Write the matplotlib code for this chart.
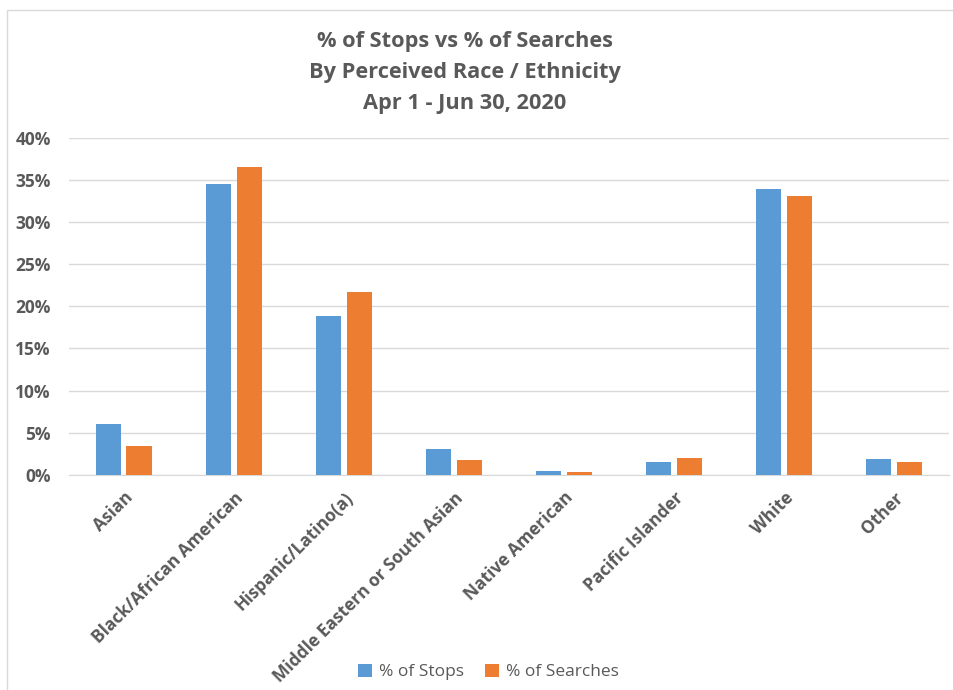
import matplotlib
matplotlib.use("Agg")
import matplotlib.pyplot as plt
import numpy as np
from matplotlib.patches import Rectangle
from matplotlib.ticker import FuncFormatter

categories = ["Asian", "Black/African American", "Hispanic/Latino(a)",
              "Middle Eastern or South Asian", "Native American",
              "Pacific Islander", "White", "Other"]
stops = [6.05, 34.5, 18.8, 3.0, 0.47, 1.54, 33.9, 1.82]
searches = [3.4, 36.5, 21.7, 1.74, 0.28, 1.94, 33.1, 1.54]

plt.rcParams['font.family'] = ['Open Sans', 'DejaVu Sans']
grey = '#595959'

fig = plt.figure(figsize=(9.54, 6.9), dpi=100)
ax = fig.add_axes([0.072, 0.312, 0.923, 0.488])

x = np.arange(len(categories))
w = 0.23
ax.bar(x - 0.14, stops, w, color='#5b9bd5', label='% of Stops', zorder=3)
ax.bar(x + 0.14, searches, w, color='#ed7d31', label='% of Searches', zorder=3)

ax.set_xlim(-0.5, len(categories) - 0.5)
ax.set_ylim(0, 40)
ax.set_yticks(range(0, 41, 5))
ax.yaxis.set_major_formatter(FuncFormatter(lambda v, p: '%d%%' % v))
ax.grid(axis='y', color='#d9d9d9', linewidth=1, zorder=0)
for s in ['top', 'right', 'left']:
    ax.spines[s].set_visible(False)
ax.spines['bottom'].set_color('#d9d9d9')
ax.tick_params(axis='both', length=0, colors=grey)
ax.tick_params(axis='y', pad=13, labelsize=12.5)
for lab in ax.get_yticklabels():
    lab.set_fontweight('bold')

ax.set_xticks(x)
ax.set_xticklabels(categories, rotation=45, ha='right', rotation_mode='anchor',
                   fontweight='bold', fontsize=12.5, color=grey)
ax.tick_params(axis='x', pad=10)

fig.text(0.487, 0.895, "% of Stops vs % of Searches\nBy Perceived Race / Ethnicity\nApr 1 - Jun 30, 2020",
         ha='center', va='center', fontsize=15.7, fontweight='bold', color=grey,
         linespacing=1.6)

fig.legend(loc='center', bbox_to_anchor=(0.512, 0.026), ncol=2, frameon=False,
           fontsize=12.5, labelcolor=grey, handlelength=0.8, handleheight=0.8,
           columnspacing=1.2, handletextpad=0.4)

fig.patches.append(Rectangle((0.007, -0.01), 1.0, 0.995, transform=fig.transFigure,
                             fill=False, edgecolor='#d9d9d9', linewidth=1))

fig.savefig('out.png', dpi=100)
